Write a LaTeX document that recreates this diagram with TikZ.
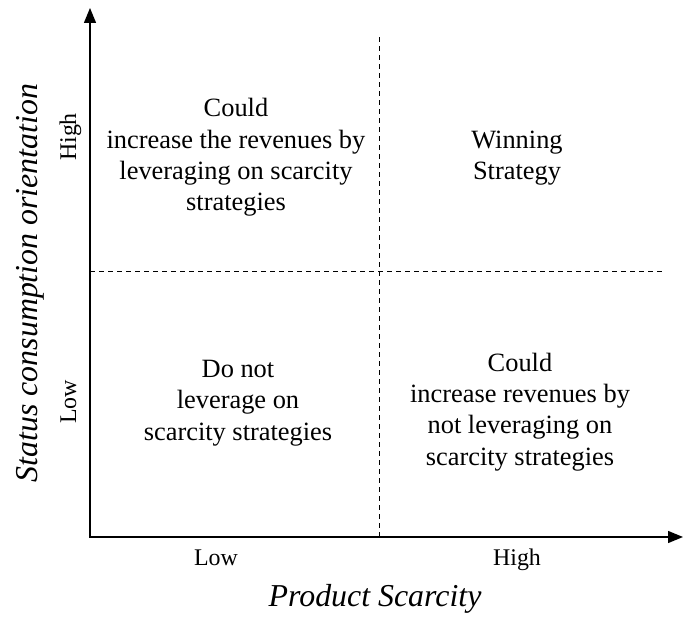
\documentclass[tikz,border=0pt]{standalone}
\usepackage{fontspec}
\setmainfont{Liberation Serif}
\usetikzlibrary{arrows.meta,calc}

\begin{document}
\begin{tikzpicture}[x=1bp, y=1bp, line join=miter, >={Triangle[length=15bp,width=12bp]},
	cell/.style={align=center, font=\fontsize{26.5}{31.5}\selectfont},
	tick/.style={font=\fontsize{24}{28}\selectfont, text height=17bp, text depth=5bp},
	axtitle/.style={font=\fontsize{32}{38}\selectfont\itshape},
	divider/.style={line width=1bp, dash pattern=on 5bp off 4bp}]
	\def\w{593} \def\h{529} \def\mx{289} \def\my{265}
	\useasboundingbox (-90,-80) rectangle (\w,537);
	% axes and the two dashed dividers
	\coordinate (O) at (0,0);
	\coordinate (X) at (\w,0);
	\coordinate (Y) at (0,\h);
	\coordinate (T) at (\mx,502);
	\coordinate (B) at (\mx,0);
	\coordinate (L) at (0,\my);
	\coordinate (R) at (575,\my);
	\draw[divider] (B)--(T) (L)--(R);
	\draw[line width=1.3bp,<->] (Y)--(O)--(X);
	% quadrants
	\node[cell] (hiLo) at (146,379.5) {Could\\increase the revenues by\\leveraging on scarcity\\strategies};
	\node[cell] (hiHi) at (427,379) {Winning\\Strategy};
	\node[cell] (loLo) at (148,134) {Do not\\leverage on\\scarcity strategies};
	\node[cell] (loHi) at (430,125) {Could\\increase revenues by\\not leveraging on\\scarcity strategies};
	% tick labels
	\node[tick] (xlo) at (126,-23) {Low};
	\node[tick] (xhi) at (427,-23) {High};
	\node[tick,rotate=90] (yhi) at (-20,400) {High};
	\node[tick,rotate=90] (ylo) at (-20,135) {Low};
	% axis titles
	\node[axtitle] (xt) at (285,-62) {Product Scarcity};
	\node[axtitle,rotate=90] (yt) at (-60,254) {Status consumption orientation};
\end{tikzpicture}
\end{document}
